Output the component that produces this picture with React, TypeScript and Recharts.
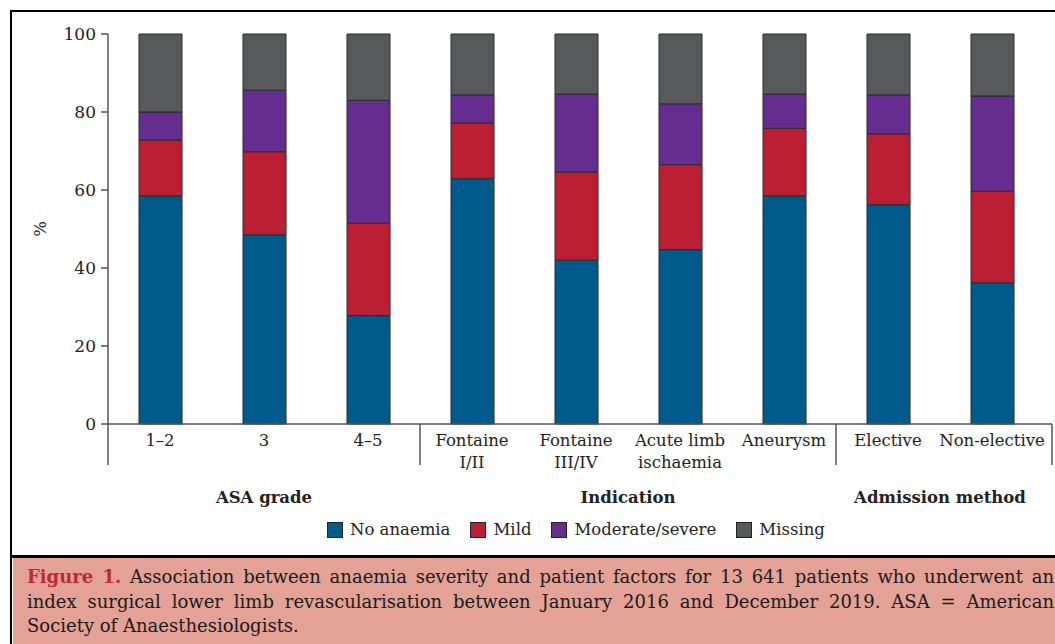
import React from 'react';
import { BarChart, Bar, XAxis, YAxis } from 'recharts';

const CATEGORIES = ['1–2', '3', '4–5', 'Fontaine\nI/II', 'Fontaine\nIII/IV', 'Acute limb\nischaemia', 'Aneurysm', 'Elective', 'Non-elective'];
const NO_ANAEMIA = [58.5, 48.5, 27.8, 62.9, 42.0, 44.7, 58.5, 56.2, 36.2];
const MILD = [14.3, 21.3, 23.7, 14.3, 22.6, 21.8, 17.3, 18.2, 23.5];
const MODERATE = [7.2, 15.8, 31.5, 7.2, 20.0, 15.6, 8.8, 10.0, 24.4];
const MISSING = [20.0, 14.4, 17.0, 15.6, 15.4, 17.9, 15.4, 15.6, 15.9];
const Y_TICKS = [0, 20, 40, 60, 80, 100];

const GROUPS = [
  { name: 'ASA grade', start: 0, count: 3 },
  { name: 'Indication', start: 3, count: 4 },
  { name: 'Admission method', start: 7, count: 2 },
];

const SERIES = [
  { key: 'none', name: 'No anaemia', color: '#005a8c' },
  { key: 'mild', name: 'Mild', color: '#bc1f33' },
  { key: 'moderate', name: 'Moderate/severe', color: '#652d90' },
  { key: 'missing', name: 'Missing', color: '#58595b' },
];

const data = CATEGORIES.map((c, i) => ({
  name: c,
  none: NO_ANAEMIA[i],
  mild: MILD[i],
  moderate: MODERATE[i],
  missing: MISSING[i],
}));

const FONT = '"DejaVu Serif", serif';
const BAND = 104; // plot width 936 / 9 categories

const CategoryTick = ({ x, y, payload, index }: any) => {
  const lines = String(payload.value).split('\n');
  const group = GROUPS.find((g) => g.start === index);
  const last = index === CATEGORIES.length - 1;
  return (
    <g>
      {lines.map((l, i) => (
        <text key={i} x={x} y={y + 22 + i * 22} textAnchor="middle" fontSize={16.5} fontFamily={FONT} fill="#222">
          {l}
        </text>
      ))}
      {group && <line x1={x - BAND / 2} x2={x - BAND / 2} y1={y} y2={y + 41} stroke="#555" strokeWidth={1.5} />}
      {group && (
        <text
          x={x - BAND / 2 + (group.count * BAND) / 2}
          y={y + 79}
          textAnchor="middle"
          fontSize={16.5}
          fontWeight="bold"
          fontFamily={FONT}
          fill="#222"
        >
          {group.name}
        </text>
      )}
      {last && <line x1={x + BAND / 2 + 8} x2={x + BAND / 2 + 8} y1={y} y2={y + 41} stroke="#555" strokeWidth={1.5} />}
    </g>
  );
};

const PercentLabel = ({ viewBox }: any) => {
  const cx = 40;
  const cy = viewBox.y + viewBox.height / 2;
  return (
    <text x={cx} y={cy} transform={`rotate(-90, ${cx}, ${cy})`} textAnchor="middle" dominantBaseline="central" fontSize={16.5} fontFamily={FONT} fill="#222">
      %
    </text>
  );
};

export default function App() {
  return (
    <div style={{ position: 'absolute', left: 0, top: 0, width: 1055, height: 644, overflow: 'hidden', background: '#fff' }}>
      {/* frame */}
      <div style={{ position: 'absolute', left: 10, top: 10, width: 1100, height: 700, borderLeft: '2.5px solid #000', borderTop: '2.5px solid #000' }} />
      <div style={{ position: 'absolute', left: 12, top: 555, width: 1100, height: 2.5, background: '#000' }} />
      <div style={{ position: 'absolute', left: 12.5, top: 557.5, width: 1100, height: 100, background: '#e4a195' }} />

      <div style={{ position: 'absolute', left: 0, top: 0 }}>
        <BarChart width={1055} height={556} data={data} margin={{ top: 34, right: 3, bottom: 32, left: 48 }} barSize={43}>
          <XAxis
            dataKey="name"
            interval={0}
            height={100}
            padding={{ left: 0, right: 8 }}
            tickLine={false}
            tickSize={0}
            tickMargin={0}
            axisLine={{ stroke: '#555', strokeWidth: 1.5 }}
            tick={<CategoryTick />}
          />
          <YAxis
            width={60}
            domain={[0, 100]}
            ticks={Y_TICKS}
            interval={0}
            tickSize={7}
            tickMargin={5}
            axisLine={{ stroke: '#555', strokeWidth: 1.5 }}
            tickLine={{ stroke: '#555', strokeWidth: 1.5 }}
            tick={{ fontSize: 17, fontFamily: FONT, fill: '#222' }}
            label={<PercentLabel />}
          />
          {SERIES.map((s) => (
            <Bar key={s.key} dataKey={s.key} name={s.name} stackId="a" fill={s.color} stroke="#2b2b2b" strokeWidth={1} isAnimationActive={false} />
          ))}
        </BarChart>
      </div>

      {/* legend */}
      <div style={{ position: 'absolute', left: 327, top: 520, display: 'flex', alignItems: 'center', gap: 20, fontFamily: FONT, fontSize: 16.5, color: '#222' }}>
        {SERIES.map((s) => (
          <div key={s.key} style={{ display: 'flex', alignItems: 'center', gap: 7 }}>
            <span style={{ width: 14, height: 14, background: s.color, border: '1.5px solid #222', display: 'inline-block' }} />
            <span>{s.name}</span>
          </div>
        ))}
      </div>

      {/* caption */}
      <div style={{ position: 'absolute', left: 27, top: 565, width: 1027, fontFamily: FONT, fontSize: 18, lineHeight: '24.5px', color: '#1a1a1a' }}>
        <div style={{ whiteSpace: 'nowrap', textAlign: 'justify', textAlignLast: 'justify' }}>
          <span style={{ color: '#c0283c', fontWeight: 'bold' }}>Figure 1.</span> Association between anaemia severity and patient factors for 13 641 patients who underwent an
        </div>
        <div style={{ whiteSpace: 'nowrap', textAlign: 'justify', textAlignLast: 'justify' }}>
          index surgical lower limb revascularisation between January 2016 and December 2019. ASA = American
        </div>
        <div style={{ whiteSpace: 'nowrap' }}>Society of Anaesthesiologists.</div>
      </div>
    </div>
  );
}
